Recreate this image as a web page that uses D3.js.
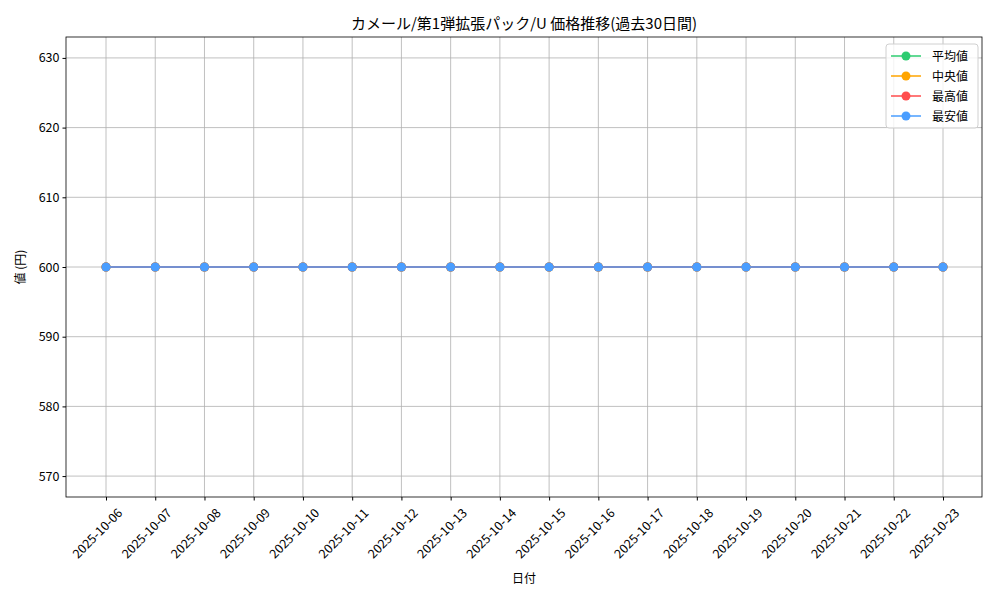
<!DOCTYPE html>
<html><head><meta charset="utf-8">
<script src="https://cdn.jsdelivr.net/npm/d3@7"></script>
<style>body{margin:0;background:#fff}text{font-family:"Noto Sans CJK JP",sans-serif}</style>
</head><body><svg id="c" width="1000" height="600"></svg>
<script>
const dates=["2025-10-06","2025-10-07","2025-10-08","2025-10-09","2025-10-10","2025-10-11","2025-10-12","2025-10-13","2025-10-14","2025-10-15","2025-10-16","2025-10-17","2025-10-18","2025-10-19","2025-10-20","2025-10-21","2025-10-22","2025-10-23"];
const avgVals=[600,600,600,600,600,600,600,600,600,600,600,600,600,600,600,600,600,600];
const medVals=[600,600,600,600,600,600,600,600,600,600,600,600,600,600,600,600,600,600];
const maxVals=[600,600,600,600,600,600,600,600,600,600,600,600,600,600,600,600,600,600];
const minVals=[600,600,600,600,600,600,600,600,600,600,600,600,600,600,600,600,600,600];
const yTicks=[570,580,590,600,610,620,630];
const series=[{name:"平均値",v:avgVals,c:"#2ecc71"},{name:"中央値",v:medVals,c:"#ffa500"},{name:"最高値",v:maxVals,c:"#ff4d4d"},{name:"最安値",v:minVals,c:"#4a9eff"}];
const L=66,R=982,T=37,B=497;
const svg=d3.select("#c");
const n=dates.length;
const x=d3.scaleLinear().domain([0,n-1]).range([106,943]);
const y=d3.scaleLinear().domain([567,633]).range([B,T]);
const g=svg.append("g");
g.selectAll(".gx").data(dates).join("line").attr("x1",(d,i)=>x(i)).attr("x2",(d,i)=>x(i)).attr("y1",T).attr("y2",B).attr("stroke","#b0b0b0").attr("stroke-width",0.8);
g.selectAll(".gy").data(yTicks).join("line").attr("x1",L).attr("x2",R).attr("y1",d=>y(d)).attr("y2",d=>y(d)).attr("stroke","#b0b0b0").attr("stroke-width",0.8);
const xa=svg.append("g").attr("transform",`translate(0,${B})`).call(d3.axisBottom(x).tickValues(d3.range(n)).tickFormat(i=>dates[i]).tickSizeOuter(0).tickSize(3.5));
xa.selectAll("text").attr("font-size",12.5).attr("fill","#000").attr("text-anchor","end").attr("transform","translate(6,6) rotate(-45)").attr("dx",0).attr("dy","0.7em");
const ya=svg.append("g").attr("transform",`translate(${L},0)`).call(d3.axisLeft(y).tickValues(yTicks).tickSizeOuter(0).tickSize(3.5));
ya.selectAll("text").attr("font-size",12.5).attr("fill","#000");
svg.selectAll(".domain").remove();
svg.append("rect").attr("x",L).attr("y",T).attr("width",R-L).attr("height",B-T).attr("fill","none").attr("stroke","#000").attr("stroke-width",0.8);
series.forEach(s=>{
 svg.append("path").datum(s.v).attr("fill","none").attr("stroke",s.c).attr("stroke-width",1.5).attr("d",d3.line().x((d,i)=>x(i)).y(d=>y(d)));
 svg.selectAll(null).data(s.v).join("circle").attr("cx",(d,i)=>x(i)).attr("cy",d=>y(d)).attr("r",4.5).attr("fill",s.c);
});
svg.append("text").attr("x",(L+R)/2).attr("y",29).attr("text-anchor","middle").attr("font-size",15).text("カメール/第1弾拡張パック/U 価格推移(過去30日間)");
svg.append("text").attr("x",(L+R)/2).attr("y",583).attr("text-anchor","middle").attr("font-size",12).text("日付");
svg.append("text").attr("transform",`translate(25,${(T+B)/2}) rotate(-90)`).attr("text-anchor","middle").attr("font-size",12).text("値 (円)");
const lg=svg.append("g").attr("transform","translate(886,44)");
lg.append("rect").attr("width",92).attr("height",84).attr("rx",3).attr("fill","#fff").attr("fill-opacity",0.8).attr("stroke","#d0d0d0");
series.forEach((s,i)=>{
 const yy=12+i*20;
 lg.append("line").attr("x1",5).attr("x2",35).attr("y1",yy).attr("y2",yy).attr("stroke",s.c).attr("stroke-width",1.5);
 lg.append("circle").attr("cx",20).attr("cy",yy).attr("r",4.5).attr("fill",s.c);
 lg.append("text").attr("x",46).attr("y",yy+4.5).attr("font-size",12).text(s.name);
});
</script></body></html>
